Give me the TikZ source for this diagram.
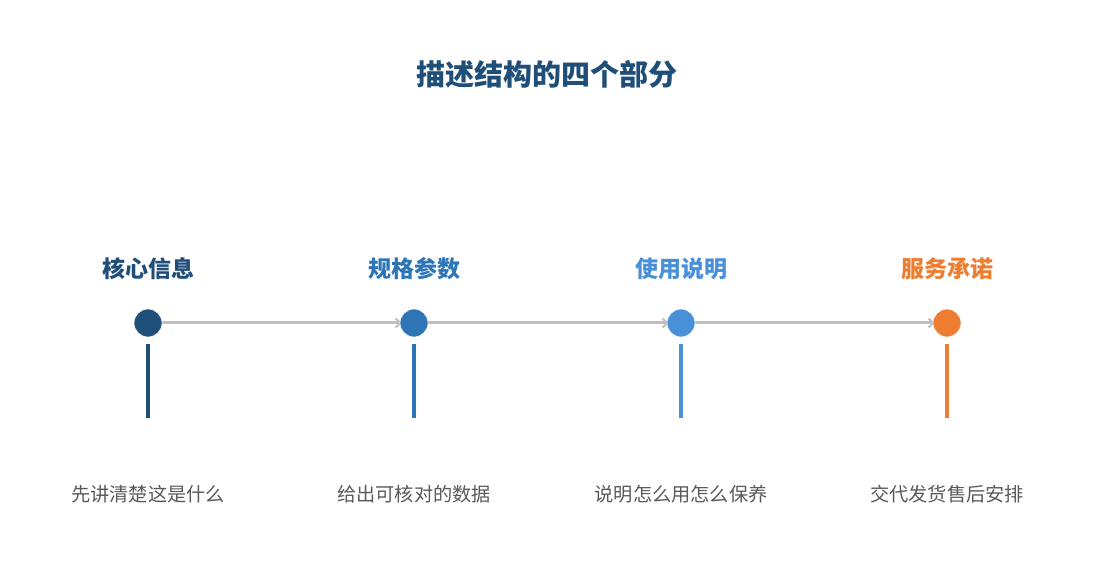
\documentclass[tikz,border=0pt]{standalone}
\usepackage{fontspec}
\setmainfont{Noto Sans CJK SC}
\usetikzlibrary{arrows.meta}
\definecolor{cA}{HTML}{1F4E79}
\definecolor{cB}{HTML}{2E75B6}
\definecolor{cC}{HTML}{4A90D9}
\definecolor{cD}{HTML}{ED7D31}
\definecolor{lineg}{HTML}{BFBFBF}
\definecolor{descg}{HTML}{595959}
\tikzset{
  dot/.style={circle,fill=#1,draw=white,line width=0.6pt,minimum size=28pt,inner sep=0pt},
  head/.style={text=#1,font=\fontsize{23}{27}\selectfont\bfseries,inner sep=0pt},
  desc/.style={text=descg,font=\fontsize{19.2}{23}\selectfont,inner sep=0pt},
  stem/.style={draw=#1,line width=4pt},
  link/.style={draw=lineg,line width=3pt,-{Straight Barb[length=5pt,width=9pt,line width=2pt]}},
}
\begin{document}
\begin{tikzpicture}[x=1pt,y=-1pt]
\useasboundingbox (0,0) rectangle (1095,585);
\node[text=cA,font=\fontsize{29}{33}\selectfont\bfseries,inner sep=0pt] (title) at (547,74) {描述结构的四个部分};
\foreach \n/\x/\c/\h/\d in {a/148/cA/核心信息/先讲清楚这是什么, b/414/cB/规格参数/给出可核对的数据, c/681/cC/使用说明/说明怎么用怎么保养, d/947/cD/服务承诺/交代发货售后安排}{
  \node[head=\c] (h\n) at (\x,269) {\h};
  \node[desc] (t\n) at (\x,494) {\d};
  \coordinate (s\n) at (\x,344);
  \coordinate (e\n) at (\x,418);
  \draw[stem=\c] (s\n) -- (e\n);
}
\coordinate (pa) at (148,323);
\coordinate (pb) at (414,323);
\coordinate (pc) at (681,323);
\coordinate (pd) at (947,323);
\draw[link] (pa) -- ([xshift=-12pt]pb);
\draw[link] (pb) -- ([xshift=-12pt]pc);
\draw[link] (pc) -- ([xshift=-12pt]pd);
\node[dot=cA] (da) at (pa) {};
\node[dot=cB] (db) at (pb) {};
\node[dot=cC] (dc) at (pc) {};
\node[dot=cD] (dd) at (pd) {};
\end{tikzpicture}
\end{document}
